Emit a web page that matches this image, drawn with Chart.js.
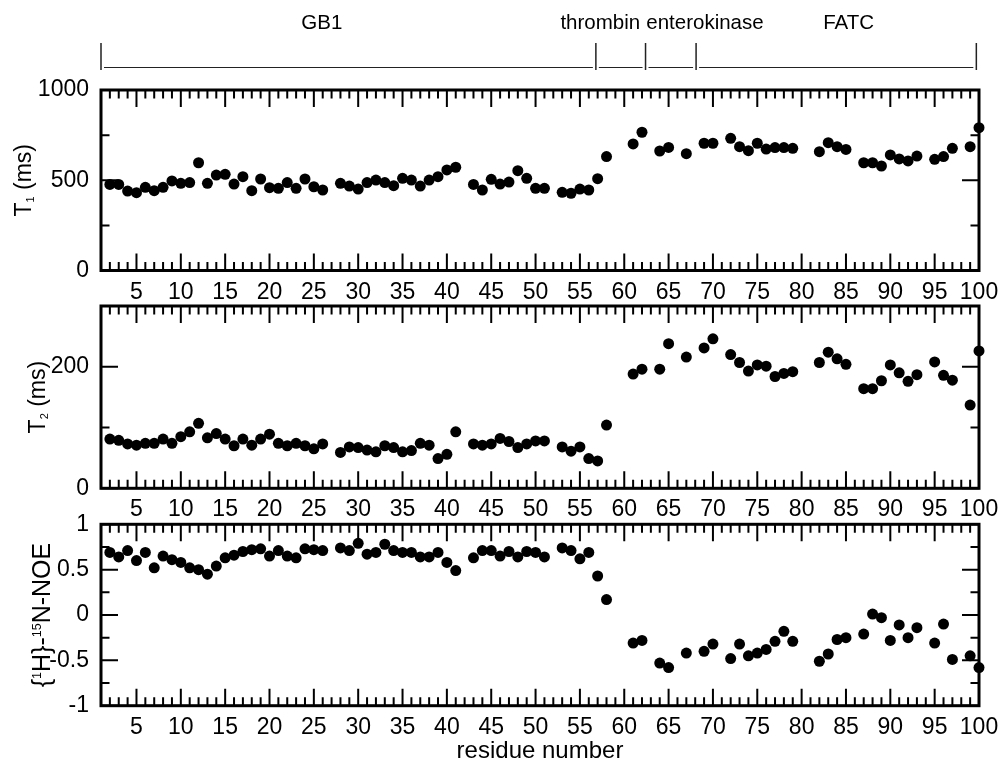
<!DOCTYPE html>
<html>
<head>
<meta charset="utf-8">
<title>Relaxation data</title>
<script src="https://cdn.jsdelivr.net/npm/chart.js@4.4.0/dist/chart.umd.min.js"></script>
<style>
  html, body { margin: 0; padding: 0; background: #fff; }
  #wrap { position: relative; width: 1003px; height: 762px; overflow: hidden; }
  #wrap canvas { position: absolute; left: 0; }
</style>
</head>
<body>
<div id="wrap">
  <canvas id="t1Chart" width="1003" height="310" style="top:0"></canvas>
  <canvas id="t2Chart" width="1003" height="260" style="top:270px"></canvas>
  <canvas id="noeChart" width="1003" height="276" style="top:490px"></canvas>
</div>
<script>
/* residue-resolved T1 / T2 / hetNOE, three stacked panels */

const residues = [
  2,3,4,5,6,7,8,9,10,11,12,13,14,15,16,17,18,19,20,21,22,23,24,25,26,
  28,29,30,31,32,33,34,35,36,37,38,39,40,41,
  43,44,45,46,47,48,49,50,51,
  53,54,55,56,57,58,
  61,62,64,65,67,69,70,
  72,73,74,75,76,77,78,79,
  82,83,84,85,
  87,88,89,90,91,92,93,
  95,96,97,99,100
];

const t1Values = [
  477,477,440,431,461,442,461,496,483,487,597,483,529,533,479,520,442,507,459,455,487,455,507,464,446,
  483,468,451,487,501,487,470,511,501,468,501,520,557,572,
  477,446,505,479,490,553,511,455,455,
  433,428,451,446,509,631,
  701,766,662,682,647,705,705,
  732,686,664,705,673,681,681,677,
  658,708,686,671,
  597,597,579,640,618,607,634,
  616,631,677,686,791
];

const t2Values = [
  81,79,73,71,74,74,81,74,85,93,107,83,90,81,70,81,71,81,89,74,70,74,70,65,73,
  59,68,67,63,60,70,67,60,62,74,71,49,56,93,
  73,71,73,82,77,67,73,78,78,
  68,61,68,49,45,104,
  188,196,196,238,216,231,246,
  220,207,193,203,201,184,189,192,
  207,224,213,204,
  164,164,177,203,190,176,187,
  208,186,178,137,226
];

const noeValues = [
  0.69,0.64,0.71,0.60,0.69,0.52,0.65,0.61,0.58,0.52,0.50,0.45,0.54,0.63,0.66,0.70,0.72,0.73,0.65,0.71,0.65,0.63,0.73,0.72,0.71,
  0.74,0.71,0.79,0.67,0.69,0.78,0.71,0.69,0.69,0.64,0.64,0.69,0.58,0.49,
  0.63,0.71,0.71,0.65,0.70,0.64,0.70,0.69,0.64,
  0.74,0.71,0.62,0.69,0.43,0.17,
  -0.31,-0.28,-0.53,-0.58,-0.42,-0.40,-0.32,
  -0.48,-0.32,-0.45,-0.42,-0.38,-0.29,-0.18,-0.29,
  -0.51,-0.43,-0.27,-0.25,
  -0.21,0.01,-0.03,-0.28,-0.11,-0.25,-0.14,
  -0.31,-0.10,-0.49,-0.45,-0.58
];

const xTickLabels = [5,10,15,20,25,30,35,40,45,50,55,60,65,70,75,80,85,90,95,100];
const t1Ticks = [0, 500, 1000];
const t2Ticks = [0, 200];
const noeTicks = [-1, -0.5, 0, 0.5, 1];

// construct regions on top of panel 1 (in residue units)
const regionNames = ["GB1", "thrombin", "enterokinase", "FATC"];
const regionLabelAt = [25.9, 57.3, 69.1, 85.3];
const regionEdges = [1, 56.8, 62.4, 68.1, 99.7];

const FONT = "'Liberation Sans', Arial, Helvetica, sans-serif";
Chart.defaults.font.family = FONT;
Chart.defaults.color = "#000";

// frame + inside ticks on all four sides
const frameTicks = {
  id: "frameTicks",
  beforeDatasetsDraw(chart, args, o) {
    const { ctx, chartArea: a, scales: { x, y } } = chart;
    ctx.save();
    ctx.strokeStyle = "#000";
    ctx.lineWidth = 2;
    ctx.beginPath();
    for (let v = x.min; v <= x.max; v++) {
      const px = x.getPixelForValue(v);
      const len = v % 5 === 0 ? 17 : 8.5;
      ctx.moveTo(px, a.top); ctx.lineTo(px, a.top + len);
      ctx.moveTo(px, a.bottom); ctx.lineTo(px, a.bottom - len);
    }
    for (let v = y.min; v <= y.max + 1e-9; v += o.yMinor) {
      const py = y.getPixelForValue(v);
      const r = v / o.yMajor;
      const len = Math.abs(r - Math.round(r)) < 1e-6 ? 17 : 8.5;
      ctx.moveTo(a.left, py); ctx.lineTo(a.left + len, py);
      ctx.moveTo(a.right, py); ctx.lineTo(a.right - len, py);
    }
    ctx.stroke();
    ctx.lineWidth = 3;
    ctx.strokeRect(a.left, a.top, a.right - a.left, a.bottom - a.top);
    ctx.restore();
  }
};

// rotated y title with sub/superscripts
const yTitle = {
  id: "yTitle",
  afterDraw(chart, args, o) {
    const { ctx, chartArea: a } = chart;
    const size = o.size, small = o.small;
    ctx.save();
    ctx.translate(o.x, (a.top + a.bottom) / 2 + (o.dy || 0));
    ctx.rotate(-Math.PI / 2);
    ctx.fillStyle = "#000";
    ctx.textBaseline = "alphabetic";
    let total = 0;
    o.parts.forEach(p => {
      ctx.font = `${p.s ? small : size}px ${FONT}`;
      p.w = ctx.measureText(p.t).width;
      total += p.w;
    });
    let px = -total / 2;
    o.parts.forEach(p => {
      ctx.font = `${p.s ? small : size}px ${FONT}`;
      const dy = p.s === "sub" ? 3 : p.s === "sup" ? -8.5 : 0;
      ctx.fillText(p.t, px, dy);
      px += p.w;
    });
    ctx.restore();
  }
};

// construct annotation above panel 1
const regions = {
  id: "regions",
  afterDraw(chart) {
    const { ctx, scales: { x } } = chart;
    ctx.save();
    ctx.fillStyle = "#000";
    ctx.font = `20.5px ${FONT}`;
    ctx.textAlign = "center";
    ctx.textBaseline = "alphabetic";
    regionNames.forEach((n, i) => ctx.fillText(n, x.getPixelForValue(regionLabelAt[i]), 29));
    ctx.strokeStyle = "#222";
    ctx.lineWidth = 1.5;
    ctx.beginPath();
    const edges = regionEdges.map(r => x.getPixelForValue(r));
    edges.forEach(px => { ctx.moveTo(px, 43); ctx.lineTo(px, 70); });
    ctx.stroke();
    ctx.lineWidth = 1;
    ctx.beginPath();
    for (let i = 0; i < edges.length - 1; i++) {
      ctx.moveTo(edges[i] + 3, 67.5); ctx.lineTo(edges[i + 1] - 3, 67.5);
    }
    ctx.stroke();
    ctx.restore();
  }
};

function makePanel(id, values, yMin, yMax, yTicks, opts) {
  const ctx = document.getElementById(id).getContext("2d");
  return new Chart(ctx, {
    type: "scatter",
    data: {
      datasets: [{
        data: residues.map((r, i) => ({ x: r, y: values[i] })),
        backgroundColor: "#000",
        borderWidth: 0,
        pointRadius: 5.5,
        pointHoverRadius: 5.5,
        clip: false
      }]
    },
    options: {
      responsive: false,
      animation: false,
      events: [],
      layout: { padding: { top: opts.top, right: 24, left: 0, bottom: 0 } },
      plugins: {
        legend: { display: false },
        tooltip: { enabled: false },
        frameTicks: { yMinor: opts.yMinor, yMajor: opts.yMajor },
        yTitle: { parts: opts.title, x: opts.titleX, size: opts.titleSize, small: opts.titleSmall }
      },
      scales: {
        x: {
          type: "linear", min: 1, max: 100,
          grid: { display: false }, border: { display: false },
          afterBuildTicks: s => { s.ticks = xTickLabels.map(v => ({ value: v })); },
          afterFit: s => { s.height = opts.xH; },
          ticks: { font: { size: 23 }, color: "#000", padding: 0, maxRotation: 0, autoSkip: false,
                   callback: v => String(v) },
          title: opts.xTitle
            ? { display: true, text: opts.xTitle, font: { size: 24 }, padding: { top: 0, bottom: 0 } }
            : { display: false }
        },
        y: {
          type: "linear", min: yMin, max: yMax,
          grid: { display: false }, border: { display: false },
          afterBuildTicks: s => { s.ticks = yTicks.map(v => ({ value: v })); },
          afterFit: s => { s.width = 101; },
          ticks: { font: { size: 23 }, color: "#000", padding: 4, callback: v => String(v) }
        }
      }
    },
    plugins: opts.extra ? [frameTicks, yTitle, ...opts.extra] : [frameTicks, yTitle]
  });
}

document.addEventListener("DOMContentLoaded", () => {
  makePanel("t1Chart", t1Values, 0, 1000, t1Ticks, {
    top: 90, xH: 39.5, yMinor: 250, yMajor: 500, titleX: 30.5, titleSize: 23, titleSmall: 11,
    title: [{ t: "T" }, { t: "1", s: "sub" }, { t: " (ms)" }],
    extra: [regions]
  });
  makePanel("t2Chart", t2Values, 0, 300, t2Ticks, {
    top: 36, xH: 41.7, yMinor: 100, yMajor: 200, titleX: 45.4, titleSize: 23, titleSmall: 11,
    title: [{ t: "T" }, { t: "2", s: "sub" }, { t: " (ms)" }]
  });
  makePanel("noeChart", noeValues, -1, 1, noeTicks, {
    top: 34.3, xH: 60.3, yMinor: 0.25, yMajor: 0.5, titleX: 49.5, titleSize: 25, titleSmall: 12.5,
    xTitle: "residue number",
    title: [{ t: "{" }, { t: "1", s: "sup" }, { t: "H}-" }, { t: "15", s: "sup" }, { t: "N-NOE" }]
  });
});
</script>
</body>
</html>
